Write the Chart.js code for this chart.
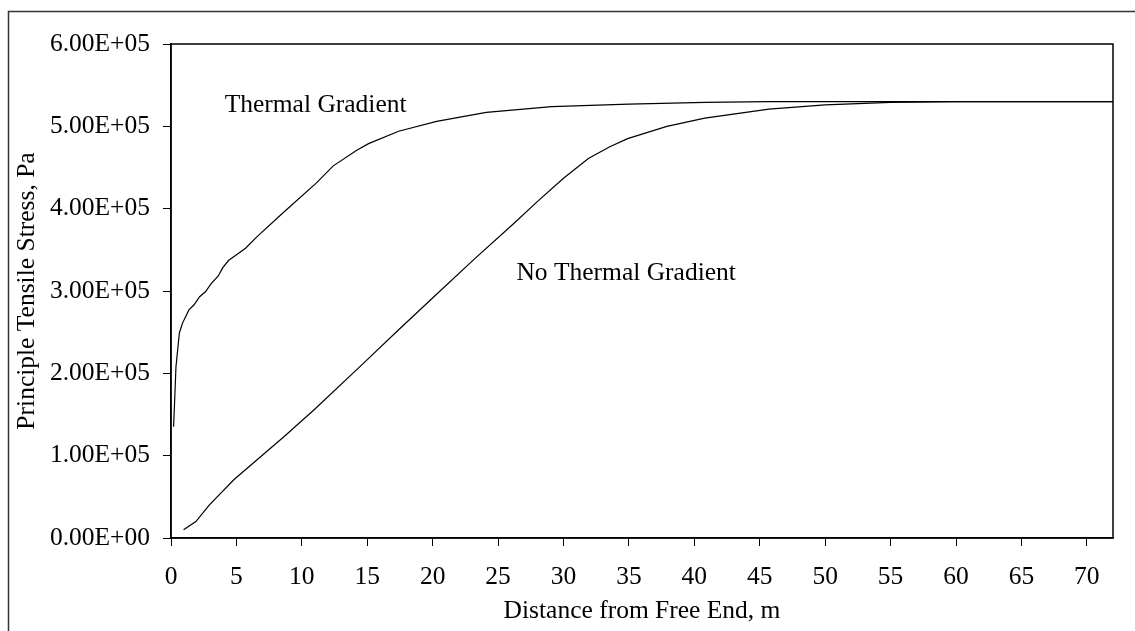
<!DOCTYPE html>
<html>
<head>
<meta charset="utf-8">
<script src="https://cdn.jsdelivr.net/npm/chart.js@4.4.1/dist/chart.umd.min.js"></script>
<style>
  body { margin: 0; background: #fff; }
  canvas { display: block; }
</style>
</head>
<body>
<canvas id="stressChart" width="1135" height="631"></canvas>
<script>
// distance from free end (m) and principle tensile stress (Pa)
const thermalX = [0.2, 0.38, 0.64, 0.88, 1.37, 1.75, 2.19, 2.63, 3.07, 3.6, 3.95, 4.39, 4.82, 5.7, 6.58, 8.63, 11.1, 12.4, 14.2, 15.1, 17.4, 20.3, 24.1, 29.1, 35, 40.8, 45.7, 50, 55, 60, 65, 72];
const thermalY = [1.35e5, 2.08e5, 2.49e5, 2.61e5, 2.77e5, 2.83e5, 2.93e5, 2.99e5, 3.09e5, 3.18e5, 3.28e5, 3.37e5, 3.42e5, 3.52e5, 3.66e5, 3.96e5, 4.31e5, 4.52e5, 4.71e5, 4.79e5, 4.94e5, 5.06e5, 5.17e5, 5.24e5, 5.27e5, 5.29e5, 5.30e5, 5.30e5, 5.30e5, 5.30e5, 5.30e5, 5.30e5];

const noThermalX = [0.96, 1.9, 2.92, 4.82, 8.63, 10.96, 14.5, 17.4, 20.3, 23.2, 26.2, 28.1, 30, 31.9, 33.5, 34.9, 37.9, 40.8, 45.7, 50, 55, 60, 65, 72];
const noThermalY = [0.10e5, 0.20e5, 0.40e5, 0.71e5, 1.23e5, 1.56e5, 2.09e5, 2.53e5, 2.96e5, 3.39e5, 3.82e5, 4.10e5, 4.37e5, 4.61e5, 4.75e5, 4.85e5, 5.00e5, 5.10e5, 5.21e5, 5.26e5, 5.29e5, 5.30e5, 5.30e5, 5.30e5];

const xTicks = [0, 5, 10, 15, 20, 25, 30, 35, 40, 45, 50, 55, 60, 65, 70];
const yTicks = [0, 1e5, 2e5, 3e5, 4e5, 5e5, 6e5];

// curve labels placed in data units
const labelNames = ["Thermal Gradient", "No Thermal Gradient"];
const labelX = [4.1, 26.4];
const labelY = [5.26e5, 3.22e5];

const FONT = "'Liberation Serif', 'Times New Roman', serif";
const FONT_SIZE = 25.5;

function toPoints(xs, ys) {
  return xs.map((x, i) => ({ x: x, y: ys[i] }));
}

// Excel style "6.00E+05"
function sciLabel(v) {
  const parts = Number(v).toExponential(2).split("e");
  const sign = parts[1][0];
  const exp = parts[1].slice(1).padStart(2, "0");
  return parts[0] + "E" + sign + exp;
}

const framePlugin = {
  id: "frame",
  beforeDraw(chart) {
    const ctx = chart.ctx;
    ctx.save();
    ctx.fillStyle = "#fff";
    ctx.fillRect(0, 0, chart.width, chart.height);
    ctx.strokeStyle = "#333";
    ctx.lineWidth = 1.5;
    ctx.strokeRect(8.5, 11.5, chart.width + 20, chart.height + 20);
    ctx.restore();
  },
  afterDraw(chart) {
    const { ctx, chartArea, scales } = chart;
    ctx.save();
    ctx.strokeStyle = "#000";
    ctx.lineWidth = 1.5;
    ctx.strokeRect(chartArea.left, chartArea.top, chartArea.right - chartArea.left, chartArea.bottom - chartArea.top);
    ctx.fillStyle = "#000";
    ctx.font = FONT_SIZE + "px " + FONT;
    ctx.textAlign = "left";
    ctx.textBaseline = "middle";
    labelNames.forEach((name, i) => {
      ctx.fillText(name, scales.x.getPixelForValue(labelX[i]), scales.y.getPixelForValue(labelY[i]));
    });
    ctx.restore();
  }
};

new Chart(document.getElementById("stressChart"), {
  type: "scatter",
  data: {
    datasets: [
      {
        label: "Thermal Gradient",
        data: toPoints(thermalX, thermalY),
        showLine: true,
        borderColor: "#000",
        borderWidth: 1.2,
        pointRadius: 0,
        tension: 0
      },
      {
        label: "No Thermal Gradient",
        data: toPoints(noThermalX, noThermalY),
        showLine: true,
        borderColor: "#000",
        borderWidth: 1.2,
        pointRadius: 0,
        tension: 0
      }
    ]
  },
  options: {
    responsive: false,
    animation: false,
    layout: { padding: { left: 0, top: 44, right: 22, bottom: 0 } },
    plugins: {
      legend: { display: false },
      tooltip: { enabled: false }
    },
    scales: {
      x: {
        type: "linear",
        min: 0,
        max: 72,
        afterBuildTicks: scale => { scale.ticks = xTicks.map(v => ({ value: v })); },
        afterFit: scale => { scale.height = 93; },
        border: { display: true, color: "#000", width: 1.5 },
        grid: { drawOnChartArea: false, drawTicks: true, tickLength: 8, color: "#000", lineWidth: 1 },
        ticks: {
          color: "#000",
          font: { family: FONT, size: FONT_SIZE },
          padding: 16,
          maxRotation: 0,
          autoSkip: false
        },
        title: {
          display: true,
          text: "Distance from Free End, m",
          color: "#000",
          font: { family: FONT, size: FONT_SIZE },
          padding: { top: 0, bottom: 4 }
        }
      },
      y: {
        type: "linear",
        min: 0,
        max: 6e5,
        afterBuildTicks: scale => { scale.ticks = yTicks.map(v => ({ value: v })); },
        afterFit: scale => { scale.width = 171; },
        border: { display: true, color: "#000", width: 1.5 },
        grid: { drawOnChartArea: false, drawTicks: true, tickLength: 8, color: "#000", lineWidth: 1 },
        ticks: {
          color: "#000",
          font: { family: FONT, size: FONT_SIZE },
          padding: 13,
          autoSkip: false,
          callback: v => sciLabel(v)
        },
        title: {
          display: true,
          text: "Principle Tensile Stress, Pa",
          color: "#000",
          font: { family: FONT, size: FONT_SIZE },
          padding: { top: 12, bottom: 0 }
        }
      }
    }
  },
  plugins: [framePlugin]
});
</script>
</body>
</html>
